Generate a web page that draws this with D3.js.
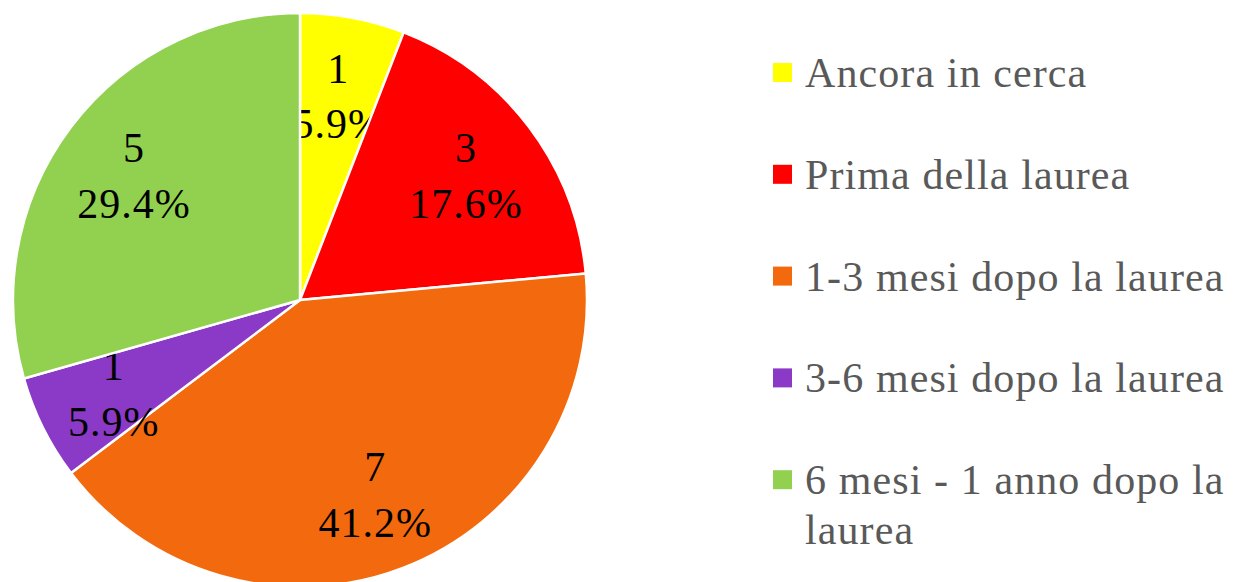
<!DOCTYPE html>
<html>
<head>
<meta charset="utf-8">
<script src="https://cdn.jsdelivr.net/npm/d3@7"></script>
<style>
  body{margin:0;background:#fff;}
  svg{display:block;}
  text{font-family:"Liberation Serif","DejaVu Serif",serif;}
</style>
</head>
<body>
<svg id="canvas" width="1233" height="582"></svg>
<script>
let categories=["Ancora in cerca","Prima della laurea","1-3 mesi dopo la laurea","3-6 mesi dopo la laurea","6 mesi - 1 anno dopo la laurea"];
let counts=[1,3,7,1,5];
let colors=["#FFFF00","#FF0000","#F26A0D","#8B3AC7","#92D050"];
// legend lines (last entry wraps in the original)
let legendLines=[["Ancora in cerca"],["Prima della laurea"],["1-3 mesi dopo la laurea"],["3-6 mesi dopo la laurea"],["6 mesi - 1 anno dopo la","laurea"]];

let canvas=d3.select("#canvas");
let cx=300, cy=300, r=287;
let total=d3.sum(counts);
let fmt=d3.format(".1%");

let pie=d3.pie().sort(null).value(d=>d);
let arc=d3.arc().innerRadius(0).outerRadius(r);
let labelArc=d3.arc().innerRadius(208).outerRadius(208);

let g=canvas.append("g").attr("transform","translate("+cx+","+cy+")");

let slices=g.selectAll("g.slice").data(pie(counts)).enter().append("g").attr("class","slice");

slices.append("path")
  .attr("d",arc)
  .attr("fill",(d,i)=>colors[i])
  .attr("stroke","#fff")
  .attr("stroke-width",2.5);

slices.each(function(d){
  let c=labelArc.centroid(d);
  let t=d3.select(this).append("text")
    .attr("text-anchor","middle")
    .attr("x",c[0]).attr("y",c[1])
    .style("font-size","42px").style("fill","#000").style("letter-spacing","1px");
  t.append("tspan").attr("x",c[0]).attr("dy","-0.3em").text(d.data);
  t.append("tspan").attr("x",c[0]).attr("dy","1.32em").text(fmt(d.data/total));
});

// legend
let legY=d3.scaleBand().domain(d3.range(categories.length)).range([36,545]).padding(0);
let leg=canvas.selectAll("g.leg").data(categories).enter().append("g").attr("class","leg")
  .attr("transform",(d,i)=>"translate(773,"+(legY(i)+51)+")");

leg.append("rect").attr("x",0).attr("y",-24).attr("width",19).attr("height",19)
  .attr("fill",(d,i)=>colors[i]);

leg.each(function(d,i){
  let t=d3.select(this).append("text").attr("x",32).attr("y",0)
    .style("font-size","42px").style("fill","#595959").style("letter-spacing","1.1px");
  legendLines[i].forEach((s,j)=>{
    t.append("tspan").attr("x",32).attr("dy",j==0?0:50).text(s);
  });
});
</script>
</body>
</html>
